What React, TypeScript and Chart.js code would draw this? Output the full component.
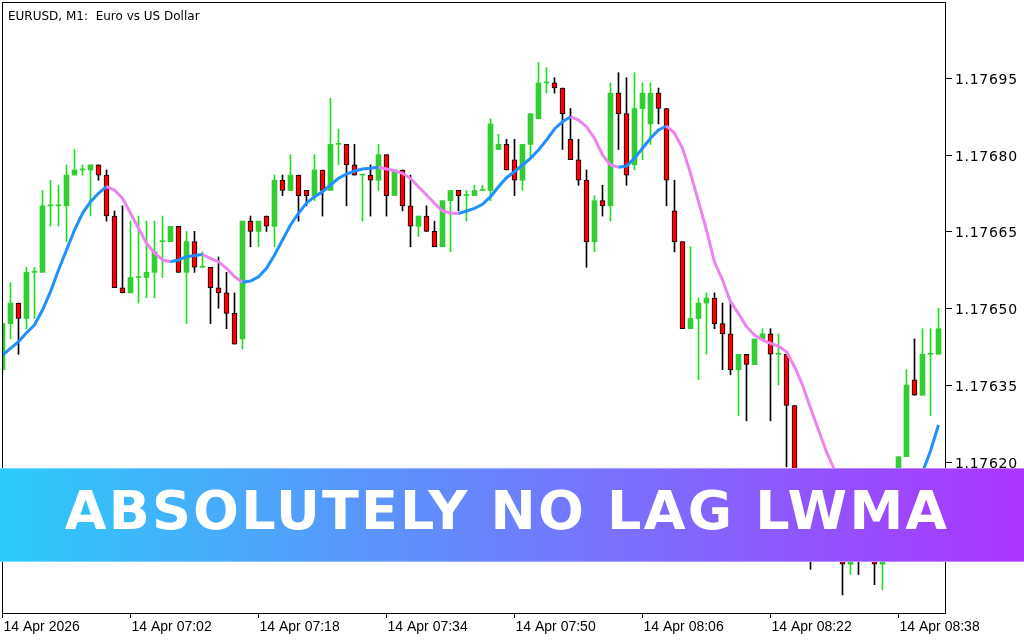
import React, { useEffect, useRef } from 'react';
import { Chart, registerables } from 'chart.js';

Chart.register(...registerables);

// EURUSD M1 candles, 14 Apr 2026 06:46 .. 08:43 (one per minute)
const opens = [
  1.17638,1.17647,1.17651,1.17648,1.17657,1.17657,1.17670,1.17670,1.17670,1.17676,
  1.17677,1.17677,1.17678,1.17676,1.17668,1.17654,1.17653,1.17656,1.17656,1.17657,
  1.17663,1.17663,1.17666,1.17657,1.17663,1.17658,1.17658,1.17654,1.17653,1.17649,
  1.17644,1.17667,1.17665,1.17668,1.17666,1.17675,1.17673,1.17676,1.17673,1.17672,
  1.17677,1.17673,1.17682,1.17682,1.17678,1.17676,1.17676,1.17675,1.17680,1.17672,
  1.17677,1.17670,1.17666,1.17668,1.17665,1.17662,1.17671,1.17673,1.17672,1.17672,
  1.17673,1.17673,1.17681,1.17682,1.17679,1.17675,1.17682,1.17687,1.17694,1.17694,
  1.17693,1.17683,1.17679,1.17675,1.17663,1.17671,1.17670,1.17692,1.17688,1.17678,
  1.17689,1.17686,1.17692,1.17689,1.17669,1.17663,1.17646,1.17648,1.17651,1.17652,
  1.17647,1.17645,1.17638,1.17641,1.17639,1.17644,1.17645,1.17641,1.17641,1.17631,
  1.17613,1.17609,1.17604,1.17607,1.17605,1.17607,1.17600,1.17604,1.17601,1.17603,
  1.17600,1.17607,1.17614,1.17621,1.17636,1.17633,1.17641,1.17641,
];

const highs = [
  1.17647,1.17655,1.17651,1.17658,1.17658,1.17673,1.17675,1.17674,1.17678,1.17681,
  1.17678,1.17678,1.17678,1.17677,1.17669,1.17670,1.17667,1.17668,1.17667,1.17667,
  1.17668,1.17666,1.17666,1.17665,1.17665,1.17661,1.17658,1.17660,1.17657,1.17653,
  1.17667,1.17668,1.17667,1.17668,1.17676,1.17676,1.17680,1.17676,1.17673,1.17680,
  1.17677,1.17691,1.17685,1.17682,1.17682,1.17676,1.17678,1.17682,1.17680,1.17677,
  1.17677,1.17676,1.17668,1.17670,1.17667,1.17671,1.17673,1.17673,1.17673,1.17674,
  1.17674,1.17687,1.17684,1.17683,1.17683,1.17682,1.17688,1.17698,1.17697,1.17695,
  1.17693,1.17689,1.17683,1.17677,1.17672,1.17674,1.17694,1.17696,1.17695,1.17696,
  1.17694,1.17694,1.17693,1.17689,1.17675,1.17663,1.17662,1.17652,1.17653,1.17653,
  1.17651,1.17651,1.17641,1.17641,1.17644,1.17646,1.17646,1.17645,1.17641,1.17631,
  1.17614,1.17610,1.17608,1.17608,1.17609,1.17608,1.17606,1.17605,1.17604,1.17605,
  1.17608,1.17614,1.17621,1.17638,1.17644,1.17646,1.17646,1.17650,
];

const lows = [
  1.17637,1.17644,1.17641,1.17646,1.17648,1.17657,1.17666,1.17666,1.17663,1.17676,
  1.17676,1.17668,1.17675,1.17667,1.17654,1.17653,1.17653,1.17651,1.17652,1.17652,
  1.17656,1.17663,1.17657,1.17647,1.17657,1.17658,1.17647,1.17650,1.17646,1.17643,
  1.17642,1.17662,1.17662,1.17665,1.17662,1.17672,1.17673,1.17667,1.17670,1.17671,
  1.17668,1.17673,1.17678,1.17670,1.17676,1.17667,1.17668,1.17673,1.17668,1.17672,
  1.17669,1.17662,1.17664,1.17665,1.17662,1.17662,1.17661,1.17669,1.17667,1.17672,
  1.17673,1.17671,1.17681,1.17677,1.17672,1.17673,1.17679,1.17687,1.17692,1.17692,
  1.17681,1.17679,1.17674,1.17658,1.17661,1.17668,1.17667,1.17681,1.17674,1.17677,
  1.17679,1.17682,1.17686,1.17670,1.17661,1.17646,1.17646,1.17636,1.17641,1.17646,
  1.17638,1.17637,1.17629,1.17628,1.17639,1.17644,1.17628,1.17635,1.17619,1.17609,
  1.17604,1.17599,1.17602,1.17602,1.17602,1.17594,1.17598,1.17598,1.17601,1.17596,
  1.17595,1.17605,1.17613,1.17621,1.17633,1.17633,1.17629,1.17641,
];

const closes = [
  1.17647,1.17651,1.17648,1.17657,1.17657,1.17670,1.17670,1.17670,1.17676,1.17677,
  1.17677,1.17678,1.17676,1.17668,1.17654,1.17653,1.17656,1.17656,1.17657,1.17661,
  1.17663,1.17666,1.17657,1.17663,1.17658,1.17658,1.17654,1.17653,1.17649,1.17643,
  1.17667,1.17665,1.17667,1.17666,1.17675,1.17673,1.17676,1.17672,1.17672,1.17677,
  1.17673,1.17682,1.17682,1.17678,1.17676,1.17676,1.17675,1.17680,1.17672,1.17677,
  1.17670,1.17666,1.17668,1.17665,1.17662,1.17671,1.17673,1.17672,1.17672,1.17673,
  1.17673,1.17686,1.17682,1.17677,1.17675,1.17682,1.17688,1.17694,1.17694,1.17693,
  1.17688,1.17679,1.17675,1.17663,1.17671,1.17670,1.17692,1.17688,1.17676,1.17689,
  1.17692,1.17692,1.17689,1.17675,1.17663,1.17646,1.17648,1.17651,1.17652,1.17647,
  1.17645,1.17638,1.17641,1.17639,1.17644,1.17645,1.17641,1.17641,1.17631,1.17613,
  1.17609,1.17604,1.17607,1.17605,1.17607,1.17600,1.17604,1.17601,1.17603,1.17600,
  1.17607,1.17614,1.17621,1.17635,1.17633,1.17641,1.17641,1.17646,
];

// "Absolutely No Lag LWMA" indicator values, one per candle
const lwma = [
  1.1764086,1.1764217,1.1764346,1.1764522,1.1764672,1.1764965,1.1765322,1.1765746,1.1766137,1.1766527,
  1.1766854,1.1767080,1.1767244,1.1767373,1.1767309,1.1767147,1.1766854,1.1766560,1.1766268,1.1766078,
  1.1765942,1.1765908,1.1765942,1.1766006,1.1766030,1.1766049,1.1765975,1.1765908,1.1765779,1.1765615,
  1.1765506,1.1765531,1.1765615,1.1765779,1.1766039,1.1766332,1.1766625,1.1766854,1.1767055,1.1767178,
  1.1767276,1.1767406,1.1767537,1.1767621,1.1767680,1.1767719,1.1767732,1.1767752,1.1767719,1.1767686,
  1.1767635,1.1767537,1.1767373,1.1767211,1.1767049,1.1766898,1.1766860,1.1766848,1.1766898,1.1766951,
  1.1767030,1.1767178,1.1767373,1.1767549,1.1767666,1.1767797,1.1767928,1.1768090,1.1768285,1.1768500,
  1.1768643,1.1768740,1.1768676,1.1768545,1.1768318,1.1767992,1.1767797,1.1767752,1.1767777,1.1767928,
  1.1768123,1.1768318,1.1768480,1.1768559,1.1768416,1.1768123,1.1767635,1.1767080,1.1766527,1.1765902,
  1.1765551,1.1765127,1.1764896,1.1764639,1.1764477,1.1764379,1.1764314,1.1764262,1.1764151,1.1763857,
  1.1763500,1.1763051,1.1762621,1.1762192,1.1761840,1.1761449,1.1761156,1.1760961,1.1760863,1.1760824,
  1.1760815,1.1760902,1.1761059,1.1761293,1.1761527,1.1761801,1.1762211,1.1762720,
];

const yTickValues = [1.1762, 1.17635, 1.1765, 1.17665, 1.1768, 1.17695];
const xTickIndex = [0, 16, 32, 48, 64, 80, 96, 112];
const xTickLabels = [
  '14 Apr 2026', '14 Apr 07:02', '14 Apr 07:18', '14 Apr 07:34',
  '14 Apr 07:50', '14 Apr 08:06', '14 Apr 08:22', '14 Apr 08:38',
];
const chartTitle = 'EURUSD, M1:  Euro vs US Dollar';
const bannerText = 'ABSOLUTELY NO LAG LWMA';

const Y_MIN = 1.1759047;
const Y_MAX = 1.1770961;
const X_MIN = -0.0625;
const X_MAX = 117.9375;

const UP_BODY = '#32CD32';
const UP_WICK = '#22DD22';
const DOWN_BODY = '#FF0000';
const LINE_UP = '#1E90FF';
const LINE_DOWN = '#EE82EE';

const mtAxesPlugin = {
  id: 'mtAxes',
  afterDraw(chart: any) {
    const { ctx, chartArea, scales } = chart;
    const xs = scales.x;
    const ys = scales.y;
    const { left, top, right, bottom } = chartArea;
    ctx.save();
    ctx.strokeStyle = '#000';
    ctx.fillStyle = '#000';
    ctx.lineWidth = 1;
    // frame
    ctx.strokeRect(left + 0.5, top - 0.5, right - left - 1, bottom - top + 1);

    // price axis
    ctx.font = '14px "DejaVu Sans"';
    (ctx as any).letterSpacing = '0.7px';
    ctx.textAlign = 'left';
    ctx.textBaseline = 'alphabetic';
    yTickValues.forEach((v) => {
      const y = Math.round(ys.getPixelForValue(v)) + 0.5;
      ctx.beginPath();
      ctx.moveTo(right, y);
      ctx.lineTo(right + 6, y);
      ctx.stroke();
      ctx.fillText(v.toFixed(5), right + 9, y + 5.5);
    });

    // time axis
    (ctx as any).letterSpacing = '0px';
    ctx.font = '14px "Liberation Sans"';
    xTickIndex.forEach((k, i) => {
      const x = Math.floor(xs.getPixelForValue(k)) + 0.5;
      ctx.beginPath();
      ctx.moveTo(x, bottom);
      ctx.lineTo(x, bottom + 5);
      ctx.stroke();
      ctx.fillText(xTickLabels[i], x + 1, bottom + 18);
    });

    // title
    ctx.font = '12px "DejaVu Sans"';
    ctx.fillText(chartTitle, 8, 19.5);
    ctx.restore();
  },
};

export default function App() {
  const canvasRef = useRef<HTMLCanvasElement | null>(null);

  useEffect(() => {
    const canvas = canvasRef.current;
    if (!canvas) return;
    const isUp = (i: number) => closes[i] >= opens[i];

    const chart = new Chart(canvas, {
      type: 'bar',
      data: {
        datasets: [
          {
            type: 'line',
            label: 'LWMA',
            data: lwma.map((v, i) => ({ x: i, y: v })),
            borderColor: LINE_UP,
            borderWidth: 3,
            pointRadius: 0,
            tension: 0,
            order: 0,
            segment: {
              borderColor: (c: any) => (c.p1.parsed.y < c.p0.parsed.y ? LINE_DOWN : LINE_UP),
            },
          } as any,
          {
            type: 'bar',
            label: 'body',
            data: opens.map((o, i) => ({ x: i, y: [o, closes[i]] })),
            backgroundColor: (c: any) => (isUp(c.dataIndex) ? UP_BODY : DOWN_BODY),
            borderColor: '#000000',
            borderWidth: (c: any) => (isUp(c.dataIndex) ? 0 : 1),
            borderSkipped: false,
            barThickness: 5,
            minBarLength: 1,
            grouped: false,
            order: 1,
          } as any,
          {
            type: 'bar',
            label: 'wick',
            data: lows.map((l, i) => ({ x: i, y: [l, highs[i]] })),
            backgroundColor: (c: any) => (isUp(c.dataIndex) ? UP_WICK : '#000000'),
            borderWidth: 0,
            barThickness: 1,
            minBarLength: 1,
            grouped: false,
            order: 2,
          } as any,
        ],
      },
      options: {
        animation: false,
        responsive: false,
        maintainAspectRatio: false,
        devicePixelRatio: 1,
        events: [],
        layout: { padding: { left: 2, top: 3, right: 78, bottom: 27 } },
        plugins: {
          legend: { display: false },
          tooltip: { enabled: false },
          title: { display: false },
        },
        scales: {
          x: { type: 'linear', display: false, min: X_MIN, max: X_MAX, offset: false },
          y: { type: 'linear', display: false, min: Y_MIN, max: Y_MAX, beginAtZero: false },
        },
      } as any,
      plugins: [mtAxesPlugin],
    });

    return () => {
      chart.destroy();
    };
  }, []);

  return (
    <div
      style={{
        position: 'fixed',
        left: 0,
        top: 0,
        width: 1024,
        height: 640,
        background: '#ffffff',
        overflow: 'hidden',
      }}
    >
      <canvas
        ref={canvasRef}
        width={1024}
        height={640}
        style={{ display: 'block', width: 1024, height: 640 }}
      />
      <div
        style={{
          position: 'absolute',
          left: 0,
          top: 468,
          width: 1024,
          height: 94,
          background: 'linear-gradient(90deg, #2CCBFA 0%, #AC35FF 100%)',
          boxShadow: 'inset 0 1px 0 rgba(255,255,255,0.35), inset 0 -1px 0 rgba(255,255,255,0.35)',
        }}
      >
        <span
          style={{
            position: 'absolute',
            left: 507,
            top: 16,
            transform: 'translateX(-50%)',
            whiteSpace: 'nowrap',
            fontFamily: '"DejaVu Sans", sans-serif',
            fontWeight: 700,
            fontSize: 54,
            lineHeight: '54px',
            letterSpacing: '2.2px',
            color: '#ffffff',
          }}
        >
          {bannerText}
        </span>
      </div>
    </div>
  );
}
